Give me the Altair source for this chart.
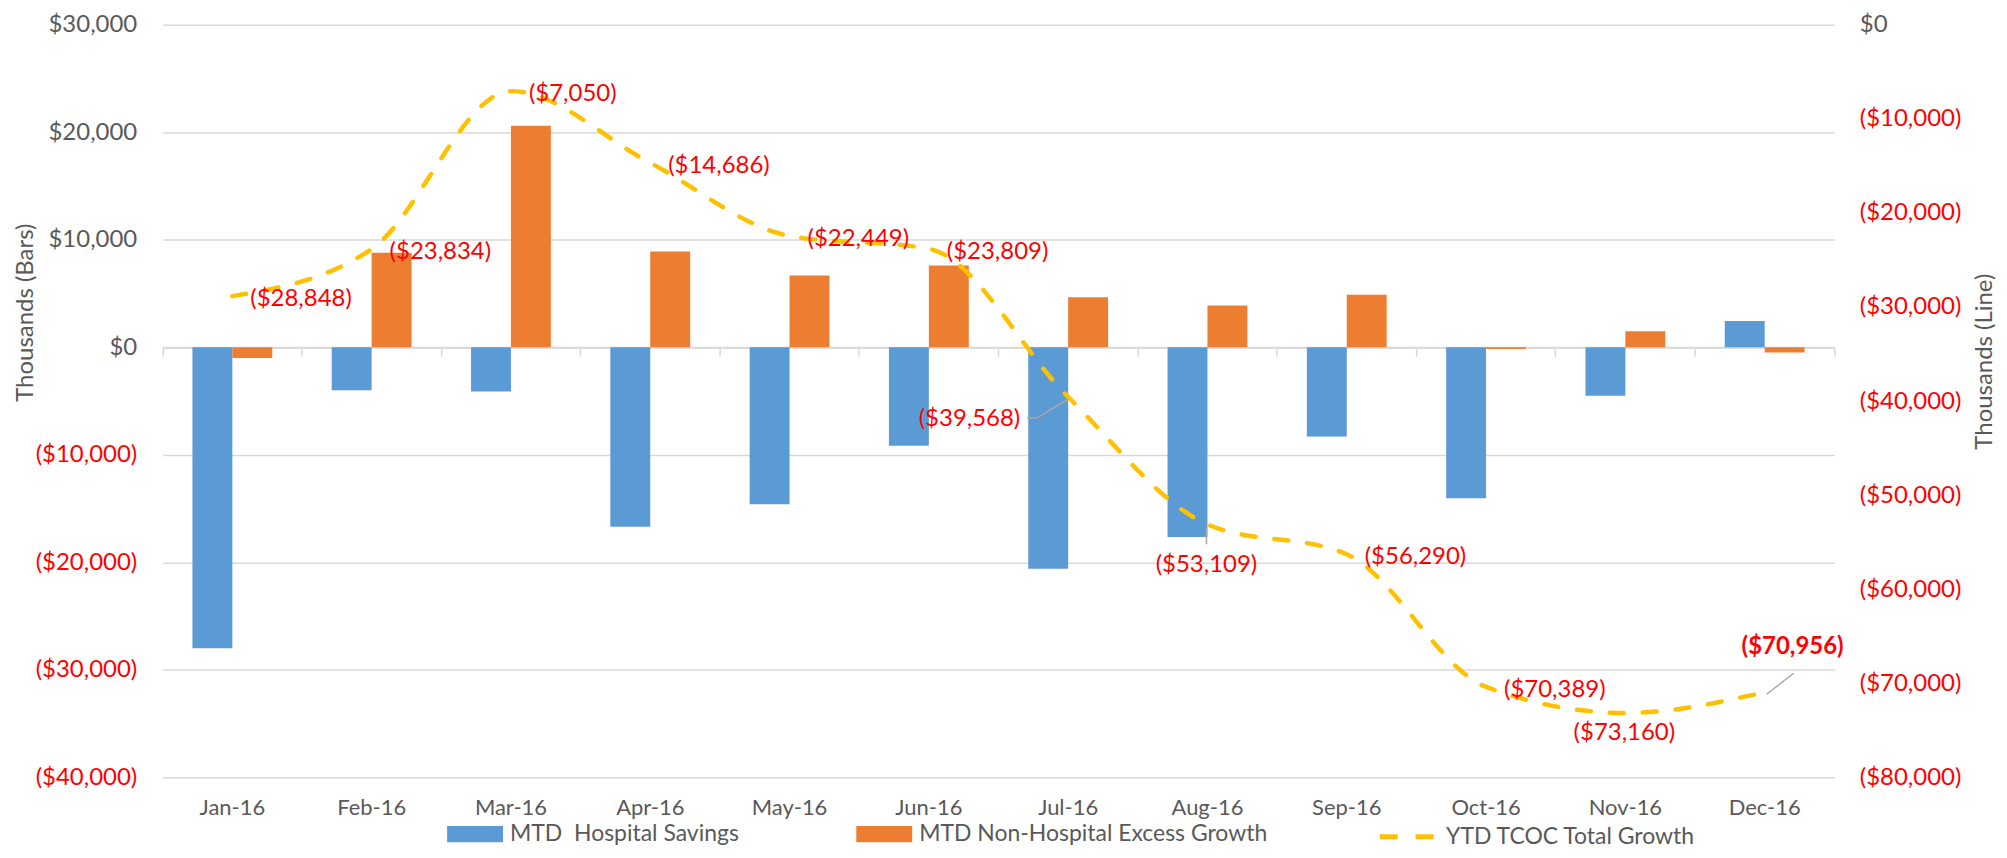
import altair as alt
import pandas as pd

# ---------------- data ----------------
months = ["Jan-16", "Feb-16", "Mar-16", "Apr-16", "May-16", "Jun-16",
          "Jul-16", "Aug-16", "Sep-16", "Oct-16", "Nov-16", "Dec-16"]
hospital_savings = [-28000, -4000, -4100, -16700, -14600, -9150,
                    -20600, -17650, -8300, -14050, -4500, 2450]
non_hospital_growth = [-1000, 8800, 20620, 8920, 6670, 7620,
                       4660, 3890, 4900, -150, 1490, -475]
ytd_growth = [-28848, -23834, -7050, -14686, -22449, -23809,
              -39568, -53109, -56290, -70389, -73160, -70956]
bar_series = ["MTD\u00a0 Hospital Savings", "MTD Non-Hospital Excess Growth"]
line_series = "YTD TCOC Total Growth"
left_ticks = [-40000, -30000, -20000, -10000, 0, 10000, 20000, 30000]
right_ticks = [-80000, -70000, -60000, -50000, -40000, -30000, -20000, -10000, 0]

# label placement groups
labels_right = ["Jan-16", "Feb-16", "Mar-16", "Apr-16", "May-16", "Jun-16", "Sep-16", "Oct-16"]

bars_df = pd.DataFrame({
    "month": months * 2,
    "series": [bar_series[0]] * 12 + [bar_series[1]] * 12,
    "value": hospital_savings + non_hospital_growth,
})
line_df = pd.DataFrame({"month": months, "ytd": ytd_growth, "series": line_series})

# ---------------- style ----------------
W, H = 1675, 754
FONT = "Lato"
GRAY = "#595959"
GRID = "#D9D9D9"
RED = "#FF0000"
BLUE = "#5B9BD5"
ORANGE = "#ED7D31"
GOLD = "#FFC000"

neg_color = {"condition": {"test": "datum.value < 0", "value": RED}, "value": GRAY}
fmt_left = ("datum.value < 0 ? '($' + format(-datum.value, ',') + ')' : "
            "'$' + format(datum.value, ',') + '\u2008'")
fmt_right = ("datum.value < 0 ? '($' + format(-datum.value, ',') + ')' : "
             "'$' + format(datum.value, ',')")

xscale = alt.Scale(type="band", paddingInner=0, paddingOuter=0)

x_bottom = alt.X("month:N", sort=months, scale=xscale,
                 axis=alt.Axis(orient="bottom", title=None, domain=False, ticks=False,
                               grid=False, labelAngle=0, labelFont=FONT, labelFontSize=22,
                               labelColor=GRAY, labelPadding=20))

x_zero = alt.X("month:N", sort=months, scale=xscale,
               axis=alt.Axis(orient="bottom", title=None, labels=False, grid=False,
                             domain=True, domainColor=GRID, domainWidth=2,
                             ticks=True, tickColor=GRID, tickWidth=1.5, tickSize=9,
                             bandPosition=1, tickExtra=True,
                             offset=-(H * 40000 / 70000)))

y_left = alt.Y("value:Q", scale=alt.Scale(domain=[-40000, 30000], nice=False, zero=False),
               axis=alt.Axis(orient="left", values=left_ticks, labelExpr=fmt_left,
                             labelColor=neg_color, labelFont=FONT, labelFontSize=24,
                             labelPadding=26, domain=False, ticks=False, grid=True,
                             gridColor=GRID, gridWidth=1.5,
                             title="Thousands (Bars)", titleFont=FONT, titleFontSize=24,
                             titleFontWeight="normal", titleColor=GRAY, titleAngle=-90,
                             titleX=-137, titleY=288, titleAlign="center",
                             titleBaseline="middle"))

y_right = alt.Y("ytd:Q", scale=alt.Scale(domain=[-80000, 0], nice=False, zero=False),
                axis=alt.Axis(orient="right", values=right_ticks, labelExpr=fmt_right,
                              labelColor=neg_color, labelFont=FONT, labelFontSize=24,
                              labelPadding=25, domain=False, ticks=False, grid=False,
                              title="Thousands (Line)", titleFont=FONT, titleFontSize=24,
                              titleFontWeight="normal", titleColor=GRAY, titleAngle=-90,
                              titleX=150, titleY=337, titleAlign="center",
                              titleBaseline="middle"))

rect_symbol = "M-1,-0.29L1,-0.29L1,0.29L-1,0.29Z"

bars = alt.Chart(bars_df).mark_bar().encode(
    x=x_bottom,
    xOffset=alt.XOffset("series:N", sort=bar_series,
                        scale=alt.Scale(domain=bar_series, paddingInner=0, paddingOuter=0.745)),
    y=y_left,
    fill=alt.Fill("series:N", sort=bar_series,
                  scale=alt.Scale(domain=bar_series, range=[BLUE, ORANGE]),
                  legend=alt.Legend(orient="none", legendX=285, legendY=783,
                                    direction="horizontal", title=None, padding=0,
                                    symbolType=rect_symbol, symbolSize=3136,
                                    symbolStrokeWidth=0, labelFont=FONT, labelFontSize=23,
                                    labelColor=GRAY, labelLimit=600, labelOffset=7,
                                    columnPadding=117)),
)

line = alt.Chart(line_df).mark_line(
    strokeWidth=4.5, strokeDash=[14, 19], strokeCap="round", interpolate="monotone"
).encode(
    x=x_zero,
    y=y_right,
    stroke=alt.Stroke("series:N",
                      scale=alt.Scale(domain=[line_series], range=[GOLD]),
                      legend=alt.Legend(orient="none", legendX=1217, legendY=784,
                                        direction="horizontal", title=None, padding=0,
                                        symbolType="stroke", symbolSize=2916,
                                        symbolStrokeWidth=5, symbolDash=[18, 18],
                                        labelFont=FONT, labelFontSize=23, labelColor=GRAY,
                                        labelLimit=600, labelOffset=10)),
)

lbl_base = alt.Chart(line_df).transform_calculate(
    lbl="'($' + format(-datum.ytd, ',') + ')'"
)


def label_layer(month_list, **kw):
    return lbl_base.transform_filter(
        alt.FieldOneOfPredicate(field="month", oneOf=month_list)
    ).mark_text(font=FONT, fontSize=24, color=RED, baseline="middle", **kw).encode(
        x=x_zero, y=y_right, text="lbl:N"
    )


lab_right = label_layer(labels_right, align="left", dx=18, dy=3)
lab_jul = label_layer(["Jul-16"], align="right", dx=-48, dy=22)
lab_aug = label_layer(["Aug-16"], align="center", dx=-1, dy=41)
lab_nov = label_layer(["Nov-16"], align="center", dx=-1, dy=20)
lab_dec = label_layer(["Dec-16"], align="center", dx=28, dy=-45, fontWeight="bold")


def leader(month, xo, yo, x2o, y2o):
    return alt.Chart(line_df).transform_filter(
        alt.FieldEqualPredicate(field="month", equal=month)
    ).mark_rule(color="#A6A6A6", strokeWidth=1.5, xOffset=xo, yOffset=yo,
                x2Offset=x2o, y2Offset=y2o).encode(
        x=x_zero, x2=alt.X2("month:N"), y=y_right, y2=alt.Y2("ytd:Q")
    )


leaders = [
    leader("Jul-16", 0, 2, -31, 21),
    leader("Jul-16", -31, 21, -41, 21),
    leader("Aug-16", -1, 3, -1, 20),
    leader("Dec-16", 2, 2, 29, -19),
]

line_group = alt.layer(line, lab_right, lab_jul, lab_aug, lab_nov, lab_dec, *leaders)

chart = alt.layer(bars, line_group).resolve_scale(
    y="independent"
).resolve_axis(
    x="independent", y="independent"
).properties(
    width=W, height=H,
    padding={"left": 155, "top": 16, "right": 165, "bottom": 72},
    autosize=alt.AutoSizeParams(type="none"),
    background="white",
).configure_view(stroke=None)

chart.save("out.html", embed_options={"renderer": "svg", "actions": False})
